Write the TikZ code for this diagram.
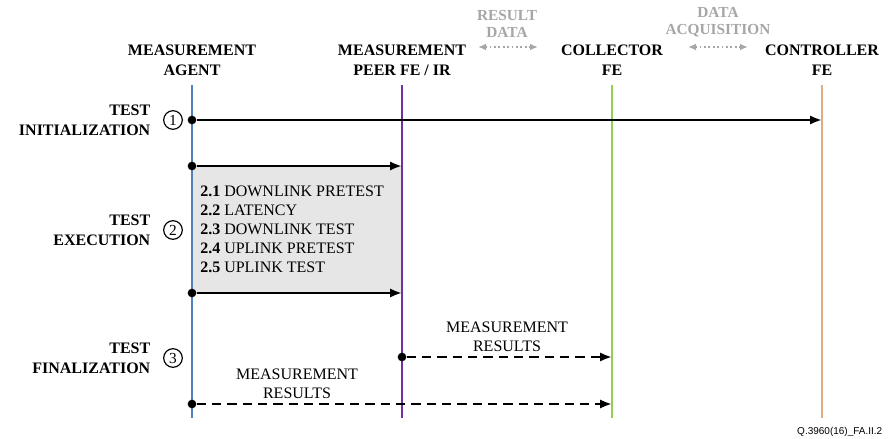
\documentclass[tikz,border=0pt]{standalone}
\usepackage{fontspec}
\setmainfont{Liberation Serif}
\setsansfont{Liberation Sans}
\usetikzlibrary{arrows.meta, positioning}

\definecolor{agentblue}{HTML}{4F81BD}
\definecolor{peerpurple}{HTML}{7030A0}
\definecolor{colgreen}{HTML}{92D050}
\definecolor{ctltan}{HTML}{E3AC88}
\definecolor{hintgrey}{HTML}{A6A6A6}
\definecolor{boxgrey}{HTML}{E6E6E6}

\begin{document}
\begin{tikzpicture}[
    x=0.75pt, y=-0.75pt,
    actor/.style={font=\fontsize{12}{15}\selectfont\bfseries, align=center},
    phase/.style={font=\fontsize{12}{15}\selectfont\bfseries, align=right, anchor=east},
    num/.style={circle, draw, inner sep=0pt, minimum size=14pt,
        line width=0.9pt, font=\fontsize{11.5}{11.5}\selectfont},
    life/.style={line width=1.6pt},
    dot/.style={circle, fill, inner sep=0pt, minimum size=6.5pt},
    msg/.style={-{Latex[length=9pt,width=7pt]}, line width=1.8pt},
    res/.style={msg, dash pattern=on 7pt off 4.5pt},
    hint/.style={font=\fontsize{11.5}{13}\selectfont\bfseries, text=hintgrey, align=center},
    link/.style={{Latex[length=6pt,width=5pt]}-{Latex[length=6pt,width=5pt]},
        dotted, hintgrey, line width=1.3pt},
    note/.style={font=\fontsize{12}{14.5}\selectfont, align=center},
]
\useasboundingbox (0,0) rectangle (893,439);

%% Actor headings
\node[actor] (ag)   at (192,60) {MEASUREMENT\\AGENT};
\node[actor] (peer) at (402,60) {MEASUREMENT\\PEER FE / IR};
\node[actor] (col)  at (612,60) {COLLECTOR\\FE};
\node[actor] (ctl)  at (822,60) {CONTROLLER\\FE};

%% Grey hints between actors
\node[hint] (rdata) at (507,24) {RESULT\\DATA};
\coordinate (rd1) at (478,47);
\coordinate (rd2) at (538,47);
\draw[link] (rd1) -- (rd2);
\node[hint] (dacq) at (718,22) {DATA\\ACQUISITION};
\coordinate (da1) at (688,47);
\coordinate (da2) at (748,47);
\draw[link] (da1) -- (da2);

%% Grey block of test execution
\fill[boxgrey] (192,166) rectangle (402,293);

%% Lifelines
\coordinate (agtop)   at (192,85);  \coordinate (agbot)   at (192,418);
\coordinate (peertop) at (402,85);  \coordinate (peerbot) at (402,418);
\coordinate (coltop)  at (612,85);  \coordinate (colbot)  at (612,418);
\coordinate (ctltop)  at (822,85);  \coordinate (ctlbot)  at (822,418);
\draw[life, agentblue]  (agtop)   -- (agbot);
\draw[life, peerpurple] (peertop) -- (peerbot);
\draw[life, colgreen]   (coltop)  -- (colbot);
\draw[life, ctltan]     (ctltop)  -- (ctlbot);

%% Phase 1: initialization
\node[phase] (p1) at (155,120) {TEST\\INITIALIZATION};
\node[num] (n1) at (173,120) {1};
\node[dot] (m1) at (192,120) {};
\coordinate (m1e) at (822,120);
\draw[msg] (m1) -- (m1e);

%% Phase 2: execution
\node[phase] (p2) at (155,230) {TEST\\EXECUTION};
\node[num] (n2) at (173,230) {2};
\node[dot] (m2) at (192,166) {};
\coordinate (m2e) at (402,166);
\draw[msg] (m2) -- (m2e);
\node[anchor=north west, inner sep=0pt, align=left,
      font=\fontsize{12}{14.25}\selectfont] (steps) at (200,186)
    {\textbf{2.1} DOWNLINK PRETEST\\
     \textbf{2.2} LATENCY\\
     \textbf{2.3} DOWNLINK TEST\\
     \textbf{2.4} UPLINK PRETEST\\
     \textbf{2.5} UPLINK TEST};
\node[dot] (m3) at (192,293) {};
\coordinate (m3e) at (402,293);
\draw[msg] (m3) -- (m3e);

%% Phase 3: finalization
\node[phase] (p3) at (155,358) {TEST\\FINALIZATION};
\node[num] (n3) at (173,358) {3};
\node[dot] (m4) at (402,357) {};
\coordinate (m4e) at (612,357);
\draw[res] (m4) -- (m4e);
\node[note] (r1) at (507,337) {MEASUREMENT\\RESULTS};
\node[dot] (m5) at (192,404) {};
\coordinate (m5e) at (612,404);
\draw[res] (m5) -- (m5e);
\node[note] (r2) at (297,384) {MEASUREMENT\\RESULTS};

%% Figure tag
\node[anchor=east, font=\sffamily\fontsize{7.5}{8}\selectfont] (tag) at (887,432) {Q.3960(16)\_FA.II.2};

\end{tikzpicture}
\end{document}
